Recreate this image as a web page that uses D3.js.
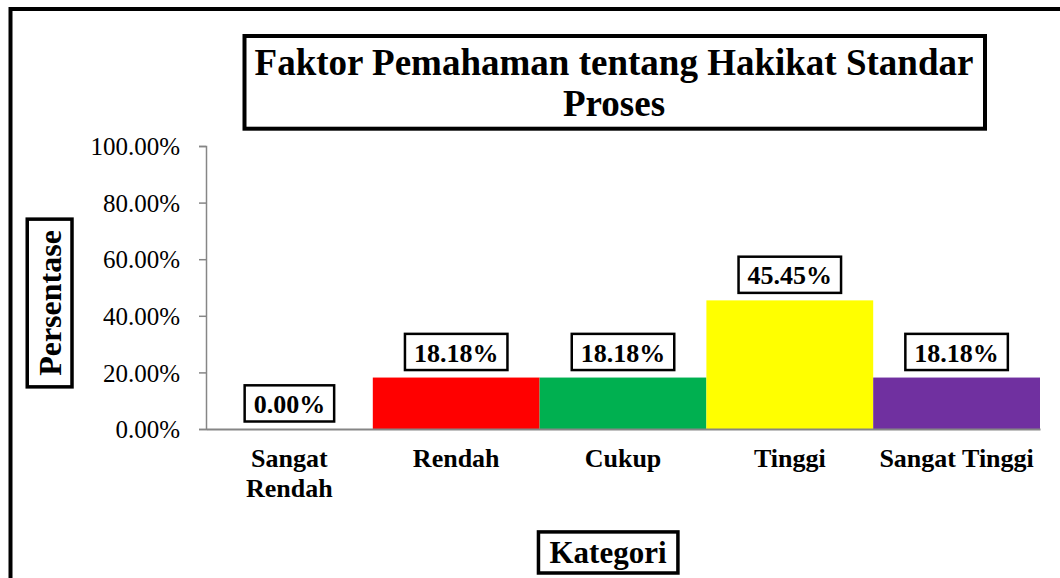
<!DOCTYPE html>
<html>
<head>
<meta charset="utf-8">
<script src="https://cdn.jsdelivr.net/npm/d3@7"></script>
<style>
  body { margin: 0; background: #fff; }
  svg { display: block; font-family: 'Liberation Serif', 'Times New Roman', serif; }
</style>
</head>
<body>
<svg id="chart"></svg>
<script>
const categories = ['Sangat Rendah', 'Rendah', 'Cukup', 'Tinggi', 'Sangat Tinggi'];
const values = [0.0, 18.18, 18.18, 45.45, 18.18];
const barColors = ['#ffffff', '#ff0000', '#00b050', '#ffff00', '#7030a0'];
const yTicks = [0, 20, 40, 60, 80, 100];

const svgWidth = 1060;
const svgHeight = 578;
const margin = { top: 146, right: 20, bottom: 149, left: 206 };
const width = svgWidth - margin.left - margin.right;
const height = svgHeight - margin.top - margin.bottom;

const svg = d3.select('#chart')
    .attr('width', svgWidth)
    .attr('height', svgHeight);

// outer frame (runs off the right and bottom edges, like the source)
svg.append('rect')
    .attr('x', 10.5)
    .attr('y', 9)
    .attr('width', 1100)
    .attr('height', 700)
    .attr('fill', 'none')
    .attr('stroke', '#000')
    .attr('stroke-width', 4);

const data = categories.map((c, i) => ({ category: c, value: values[i], color: barColors[i] }));

const xScale = d3.scaleBand()
    .domain(categories)
    .range([0, width])
    .padding(0);

const yScale = d3.scaleLinear()
    .domain([0, 100])
    .range([height, 0]);

const g = svg.append('g')
    .attr('transform', `translate(${margin.left}, ${margin.top})`);

// bars
g.selectAll('rect.bar')
    .data(data)
    .enter()
    .append('rect')
    .attr('class', 'bar')
    .attr('x', d => xScale(d.category))
    .attr('y', d => yScale(d.value))
    .attr('width', xScale.bandwidth())
    .attr('height', d => height - yScale(d.value))
    .attr('fill', d => d.color);

// y axis
const yAxis = g.append('g')
    .call(d3.axisLeft(yScale).tickValues(yTicks).tickSize(7).tickSizeOuter(7)
        .tickFormat(d => d.toFixed(2) + '%'));
yAxis.select('.domain').attr('stroke', '#868686').attr('stroke-width', 1.5);
yAxis.selectAll('.tick line').attr('stroke', '#868686').attr('stroke-width', 1.5);
yAxis.selectAll('.tick text')
    .attr('x', -26)
    .attr('dy', '0.35em')
    .attr('font-family', "'Liberation Serif', serif")
    .attr('font-size', '25px')
    .attr('fill', '#000');

// x axis
const xAxis = g.append('g')
    .attr('transform', `translate(0, ${height})`)
    .call(d3.axisBottom(xScale).tickSize(0).tickSizeOuter(0));
xAxis.select('.domain').attr('stroke', '#868686').attr('stroke-width', 2);
xAxis.selectAll('.tick text')
    .attr('y', 38)
    .attr('dy', 0)
    .attr('font-family', "'Liberation Serif', serif")
    .attr('font-size', '26px')
    .attr('font-weight', 'bold')
    .attr('fill', '#000')
    .each(function () {
        const t = d3.select(this);
        const words = t.text().split(' ');
        t.text(null);
        let line = [];
        let ts = t.append('tspan').attr('x', 0);
        words.forEach(w => {
            line.push(w);
            ts.text(line.join(' '));
            if (ts.node().getComputedTextLength() > xScale.bandwidth() - 5 && line.length > 1) {
                line.pop();
                ts.text(line.join(' '));
                line = [w];
                ts = t.append('tspan').attr('x', 0).attr('dy', '1.15em').text(w);
            }
        });
    });

// boxed text helper
function boxedText(parent, x, y, text, size, padX, padTop, padBottom, strokeW) {
    const grp = parent.append('g');
    const txt = grp.append('text')
        .attr('x', x)
        .attr('y', y)
        .attr('text-anchor', 'middle')
        .attr('font-weight', 'bold')
        .attr('font-size', size + 'px')
        .attr('fill', '#000')
        .text(text);
    const bb = txt.node().getBBox();
    const top = y - size * 0.68 - padTop;
    const bottom = y + padBottom;
    grp.insert('rect', 'text')
        .attr('x', bb.x - padX)
        .attr('y', top)
        .attr('width', bb.width + padX * 2)
        .attr('height', bottom - top)
        .attr('fill', '#fff')
        .attr('stroke', '#000')
        .attr('stroke-width', strokeW);
    return grp;
}

// data labels
data.forEach(d => {
    const cx = xScale(d.category) + xScale.bandwidth() / 2;
    boxedText(g, cx, yScale(d.value) - 16, d.value.toFixed(2) + '%', 26, 9, 10, 8.5, 2.5);
});

// title
const titleG = svg.append('g');
titleG.append('rect')
    .attr('x', 244.5)
    .attr('y', 36)
    .attr('width', 740.5)
    .attr('height', 92.7)
    .attr('fill', '#fff')
    .attr('stroke', '#000')
    .attr('stroke-width', 4);
titleG.append('text')
    .attr('x', 614)
    .attr('y', 75)
    .attr('text-anchor', 'middle')
    .attr('font-weight', 'bold')
    .attr('font-size', '37px')
    .text('Faktor Pemahaman tentang Hakikat Standar');
titleG.append('text')
    .attr('x', 614)
    .attr('y', 116)
    .attr('text-anchor', 'middle')
    .attr('font-weight', 'bold')
    .attr('font-size', '37px')
    .text('Proses');

// y axis title
const yt = svg.append('g').attr('transform', 'translate(61, 303) rotate(-90)');
boxedText(yt, 0, 0, 'Persentase', 32, 11, 12, 11, 3.5);

// x axis title
boxedText(svg, 608, 563, 'Kategori', 31, 11, 10, 10, 3.5);
</script>
</body>
</html>
